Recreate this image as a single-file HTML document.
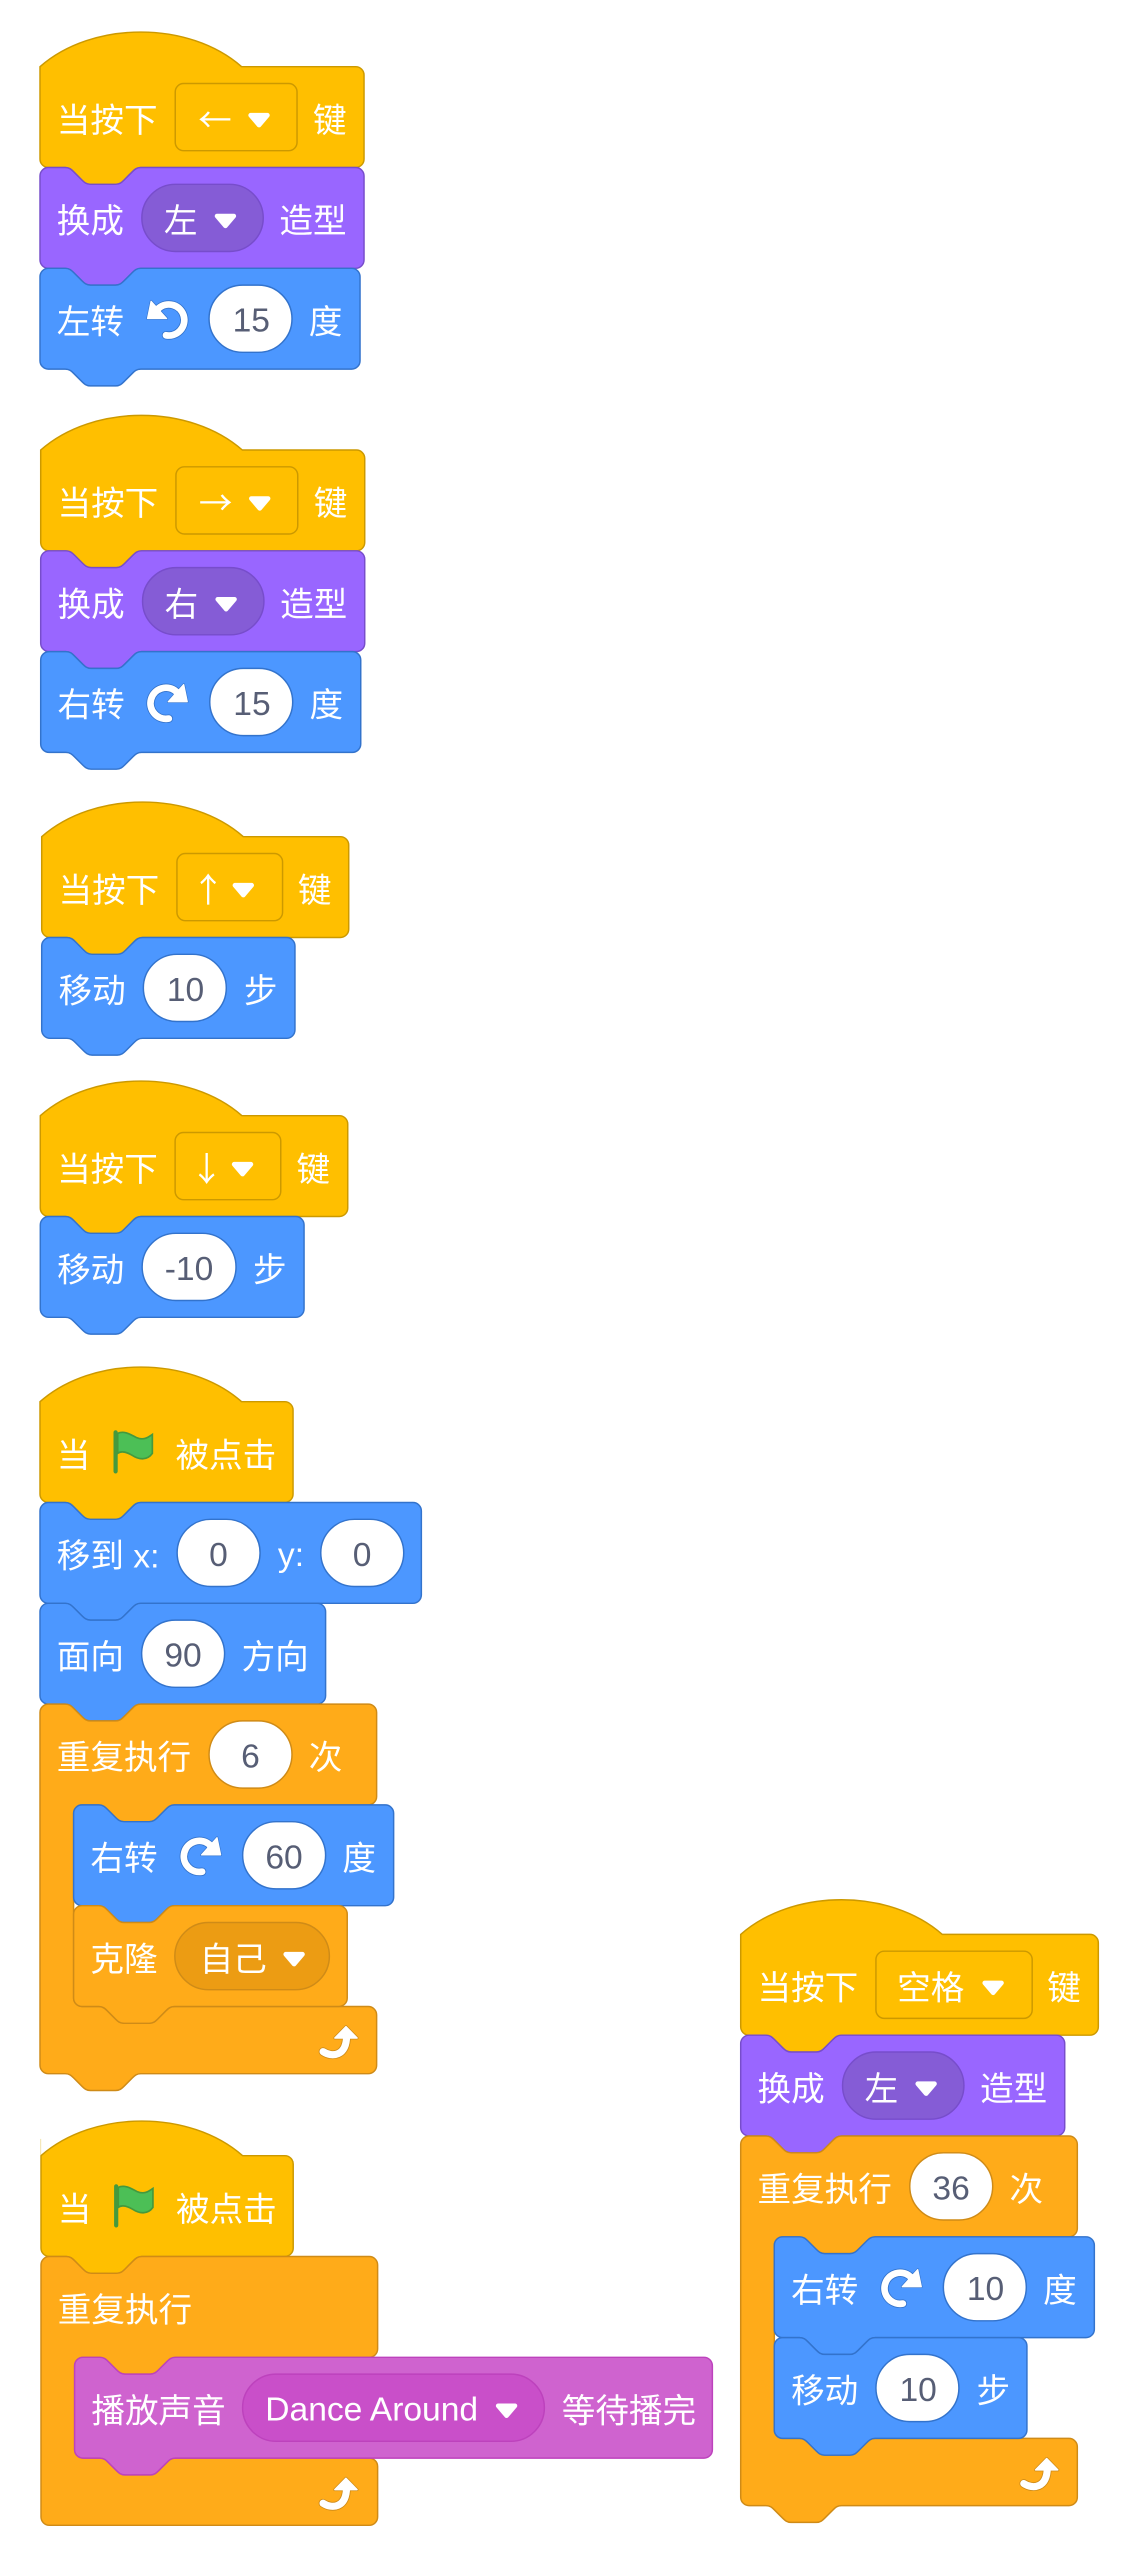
<!DOCTYPE html>
<html><head><meta charset="utf-8"><style>
html,body{margin:0;padding:0;background:#fff}
svg{display:block}
text{font-family:"Liberation Sans","Noto Sans CJK SC",sans-serif;font-size:16px;fill:#fff}
.n{fill:#575E75;text-anchor:middle}
.k{font-family:"Noto Sans CJK SC","Liberation Sans",sans-serif}
</style></head><body>
<svg xmlns="http://www.w3.org/2000/svg" width="1137" height="2556" viewBox="0 0 1137 2556">
<defs>
<g id="a"><path d="M-4,-2.4H4L0,2.3Z" fill="#fff" stroke="#fff" stroke-width="2.2" stroke-linejoin="round"/></g>
<g id="r"><path d="M10.5,17A7.4,7.4 0 1 1 14,4.1L15,6" fill="none" stroke="#3373CC" stroke-width="4" stroke-linecap="round"/><path d="M17.6,.8L19.3,9H10.2Z" fill="#3373CC" stroke="#3373CC" stroke-width="1.2" stroke-linejoin="round"/><path d="M10.5,17A7.4,7.4 0 1 1 14,4.1L15,6" fill="none" stroke="#fff" stroke-width="3.2" stroke-linecap="round"/><path d="M17.6,.8L19.3,9H10.2Z" fill="#fff" stroke="#fff" stroke-width=".6" stroke-linejoin="round"/></g>
<g id="l"><use href="#r" transform="translate(20,0) scale(-1,1)"/></g>
<g id="f"><path d="M2,1.5C5,0 8,2 11,3.5C14,4.8 16,3.8 18.5,2V11C16,14.5 12,14 9,12C6.5,10.5 4,9.5 2,11Z" fill="#4CBF56" stroke="#45993D" stroke-width=".8"/><rect x="0" y="0" width="2" height="20.6" rx="1" fill="#45993D"/></g>
<g id="t"><path d="M1.8,12.7C6,15.5 13,15 13,5" fill="none" stroke="#CF8B17" stroke-width="4.2" stroke-linecap="round"/><path d="M12.7,.8L18,6.2H7.4Z" fill="#CF8B17" stroke="#CF8B17" stroke-width="1.4" stroke-linejoin="round"/><path d="M1.8,12.7C6,15.5 13,15 13,5" fill="none" stroke="#fff" stroke-width="3.4" stroke-linecap="round"/><path d="M12.7,.8L18,6.2H7.4Z" fill="#fff" stroke="#fff" stroke-width=".7" stroke-linejoin="round"/></g>
</defs>

<!-- stack 1 -->
<g transform="translate(40,66.7) scale(2.1)">
<path d="M0,0c25,-22 71,-22 96,0H150.3a4,4 0 0 1 4,4v40a4,4 0 0 1 -4,4H48c-2,0 -3,1 -4,2l-4,4c-1,1 -2,2 -4,2h-12c-2,0 -3,-1 -4,-2l-4,-4c-1,-1 -2,-2 -4,-2H4a4,4 0 0 1 -4,-4z" fill="#FFBF00" stroke="#CC9900" stroke-width=".7"/>
<text x="8" y="31">当按下</text>
<rect x="64.4" y="8" width="58" height="32" rx="4" fill="#FFBF00" stroke="#CC9900" stroke-width=".7"/>
<text class="k" x="75.3" y="31">←</text><use href="#a" x="104.3" y="25.5"/>
<text x="130" y="31">键</text>
<g transform="translate(0,48)">
<path d="M0,4A4,4 0 0 1 4,0H12c2,0 3,1 4,2l4,4c1,1 2,2 4,2h12c2,0 3,-1 4,-2l4,-4c1,-1 2,-2 4,-2H150.3a4,4 0 0 1 4,4v40a4,4 0 0 1 -4,4H48c-2,0 -3,1 -4,2l-4,4c-1,1 -2,2 -4,2h-12c-2,0 -3,-1 -4,-2l-4,-4c-1,-1 -2,-2 -4,-2H4a4,4 0 0 1 -4,-4z" fill="#9966FF" stroke="#774DCB" stroke-width=".7"/>
<text x="8" y="31">换成</text>
<rect x="48.5" y="8" width="57.8" height="32" rx="16" fill="#855CD6" stroke="#774DCB" stroke-width=".7"/>
<text x="59" y="31">左</text><use href="#a" x="88.3" y="25.5"/>
<text x="114" y="31">造型</text>
</g>
<g transform="translate(0,96)">
<path d="M0,4A4,4 0 0 1 4,0H12c2,0 3,1 4,2l4,4c1,1 2,2 4,2h12c2,0 3,-1 4,-2l4,-4c1,-1 2,-2 4,-2H148.4a4,4 0 0 1 4,4v40a4,4 0 0 1 -4,4H48c-2,0 -3,1 -4,2l-4,4c-1,1 -2,2 -4,2h-12c-2,0 -3,-1 -4,-2l-4,-4c-1,-1 -2,-2 -4,-2H4a4,4 0 0 1 -4,-4z" fill="#4C97FF" stroke="#3373CC" stroke-width=".7"/>
<text x="8" y="31">左转</text>
<use href="#l" x="50.5" y="14.9"/>
<rect x="80.5" y="8" width="39.5" height="32" rx="16" fill="#fff" stroke="#3373CC" stroke-width=".7"/>
<text class="n" x="100.6" y="30.2">15</text>
<text x="128" y="31">度</text>
</g>
</g>

<!-- stack 2 -->
<g transform="translate(40.7,450) scale(2.1)">
<path d="M0,0c25,-22 71,-22 96,0H150.3a4,4 0 0 1 4,4v40a4,4 0 0 1 -4,4H48c-2,0 -3,1 -4,2l-4,4c-1,1 -2,2 -4,2h-12c-2,0 -3,-1 -4,-2l-4,-4c-1,-1 -2,-2 -4,-2H4a4,4 0 0 1 -4,-4z" fill="#FFBF00" stroke="#CC9900" stroke-width=".7"/>
<text x="8" y="31">当按下</text>
<rect x="64.4" y="8" width="58" height="32" rx="4" fill="#FFBF00" stroke="#CC9900" stroke-width=".7"/>
<text class="k" x="75.3" y="31">→</text><use href="#a" x="104.3" y="25.5"/>
<text x="130" y="31">键</text>
<g transform="translate(0,48)">
<path d="M0,4A4,4 0 0 1 4,0H12c2,0 3,1 4,2l4,4c1,1 2,2 4,2h12c2,0 3,-1 4,-2l4,-4c1,-1 2,-2 4,-2H150.3a4,4 0 0 1 4,4v40a4,4 0 0 1 -4,4H48c-2,0 -3,1 -4,2l-4,4c-1,1 -2,2 -4,2h-12c-2,0 -3,-1 -4,-2l-4,-4c-1,-1 -2,-2 -4,-2H4a4,4 0 0 1 -4,-4z" fill="#9966FF" stroke="#774DCB" stroke-width=".7"/>
<text x="8" y="31">换成</text>
<rect x="48.5" y="8" width="57.8" height="32" rx="16" fill="#855CD6" stroke="#774DCB" stroke-width=".7"/>
<text x="59" y="31">右</text><use href="#a" x="88.3" y="25.5"/>
<text x="114" y="31">造型</text>
</g>
<g transform="translate(0,96)">
<path d="M0,4A4,4 0 0 1 4,0H12c2,0 3,1 4,2l4,4c1,1 2,2 4,2h12c2,0 3,-1 4,-2l4,-4c1,-1 2,-2 4,-2H148.4a4,4 0 0 1 4,4v40a4,4 0 0 1 -4,4H48c-2,0 -3,1 -4,2l-4,4c-1,1 -2,2 -4,2h-12c-2,0 -3,-1 -4,-2l-4,-4c-1,-1 -2,-2 -4,-2H4a4,4 0 0 1 -4,-4z" fill="#4C97FF" stroke="#3373CC" stroke-width=".7"/>
<text x="8" y="31">右转</text>
<use href="#r" x="50.5" y="14.9"/>
<rect x="80.5" y="8" width="39.5" height="32" rx="16" fill="#fff" stroke="#3373CC" stroke-width=".7"/>
<text class="n" x="100.6" y="30.2">15</text>
<text x="128" y="31">度</text>
</g>
</g>

<!-- stack 3 -->
<g transform="translate(41.7,836.7) scale(2.1)">
<path d="M0,0c25,-22 71,-22 96,0H142.2a4,4 0 0 1 4,4v40a4,4 0 0 1 -4,4H48c-2,0 -3,1 -4,2l-4,4c-1,1 -2,2 -4,2h-12c-2,0 -3,-1 -4,-2l-4,-4c-1,-1 -2,-2 -4,-2H4a4,4 0 0 1 -4,-4z" fill="#FFBF00" stroke="#CC9900" stroke-width=".7"/>
<text x="8" y="31">当按下</text>
<rect x="64.4" y="8" width="50.3" height="32" rx="4" fill="#FFBF00" stroke="#CC9900" stroke-width=".7"/>
<text class="k" x="79.3" y="31" text-anchor="middle">↑</text><use href="#a" x="96" y="25.5"/>
<text x="122" y="31">键</text>
<g transform="translate(0,48)">
<path d="M0,4A4,4 0 0 1 4,0H12c2,0 3,1 4,2l4,4c1,1 2,2 4,2h12c2,0 3,-1 4,-2l4,-4c1,-1 2,-2 4,-2H116.6a4,4 0 0 1 4,4v40a4,4 0 0 1 -4,4H48c-2,0 -3,1 -4,2l-4,4c-1,1 -2,2 -4,2h-12c-2,0 -3,-1 -4,-2l-4,-4c-1,-1 -2,-2 -4,-2H4a4,4 0 0 1 -4,-4z" fill="#4C97FF" stroke="#3373CC" stroke-width=".7"/>
<text x="8" y="31">移动</text>
<rect x="48.4" y="8" width="39.5" height="32" rx="16" fill="#fff" stroke="#3373CC" stroke-width=".7"/>
<text class="n" x="68.5" y="30.2">10</text>
<text x="96.3" y="31">步</text>
</g>
</g>

<!-- stack 4 -->
<g transform="translate(40.3,1115.7) scale(2.1)">
<path d="M0,0c25,-22 71,-22 96,0H142.4a4,4 0 0 1 4,4v40a4,4 0 0 1 -4,4H48c-2,0 -3,1 -4,2l-4,4c-1,1 -2,2 -4,2h-12c-2,0 -3,-1 -4,-2l-4,-4c-1,-1 -2,-2 -4,-2H4a4,4 0 0 1 -4,-4z" fill="#FFBF00" stroke="#CC9900" stroke-width=".7"/>
<text x="8" y="31">当按下</text>
<rect x="64.2" y="8" width="50.3" height="32" rx="4" fill="#FFBF00" stroke="#CC9900" stroke-width=".7"/>
<text class="k" x="79.2" y="31" text-anchor="middle">↓</text><use href="#a" x="96.3" y="25.5"/>
<text x="122" y="31">键</text>
<g transform="translate(0,48)">
<path d="M0,4A4,4 0 0 1 4,0H12c2,0 3,1 4,2l4,4c1,1 2,2 4,2h12c2,0 3,-1 4,-2l4,-4c1,-1 2,-2 4,-2H121.6a4,4 0 0 1 4,4v40a4,4 0 0 1 -4,4H48c-2,0 -3,1 -4,2l-4,4c-1,1 -2,2 -4,2h-12c-2,0 -3,-1 -4,-2l-4,-4c-1,-1 -2,-2 -4,-2H4a4,4 0 0 1 -4,-4z" fill="#4C97FF" stroke="#3373CC" stroke-width=".7"/>
<text x="8" y="31">移动</text>
<rect x="48.5" y="8" width="44.7" height="32" rx="16" fill="#fff" stroke="#3373CC" stroke-width=".7"/>
<text class="n" x="70.8" y="30.2">-10</text>
<text x="101.3" y="31">步</text>
</g>
</g>

<!-- stack 5 -->
<g transform="translate(40,1401.7) scale(2.1)">
<path d="M0,0c25,-22 71,-22 96,0H116.5a4,4 0 0 1 4,4v40a4,4 0 0 1 -4,4H48c-2,0 -3,1 -4,2l-4,4c-1,1 -2,2 -4,2h-12c-2,0 -3,-1 -4,-2l-4,-4c-1,-1 -2,-2 -4,-2H4a4,4 0 0 1 -4,-4z" fill="#FFBF00" stroke="#CC9900" stroke-width=".7"/>
<text x="8" y="31">当</text>
<use href="#f" x="35" y="13.6"/>
<text x="64.5" y="31">被点击</text>
<g transform="translate(0,48)">
<path d="M0,4A4,4 0 0 1 4,0H12c2,0 3,1 4,2l4,4c1,1 2,2 4,2h12c2,0 3,-1 4,-2l4,-4c1,-1 2,-2 4,-2H177.6a4,4 0 0 1 4,4v40a4,4 0 0 1 -4,4H48c-2,0 -3,1 -4,2l-4,4c-1,1 -2,2 -4,2h-12c-2,0 -3,-1 -4,-2l-4,-4c-1,-1 -2,-2 -4,-2H4a4,4 0 0 1 -4,-4z" fill="#4C97FF" stroke="#3373CC" stroke-width=".7"/>
<text x="8" y="31">移到 x:</text>
<rect x="65.3" y="8" width="39.5" height="32" rx="16" fill="#fff" stroke="#3373CC" stroke-width=".7"/>
<text class="n" x="85" y="30.2">0</text>
<text x="113.3" y="30.2">y:</text>
<rect x="133.7" y="8" width="39.5" height="32" rx="16" fill="#fff" stroke="#3373CC" stroke-width=".7"/>
<text class="n" x="153.4" y="30.2">0</text>
</g>
<g transform="translate(0,96)">
<path d="M0,4A4,4 0 0 1 4,0H12c2,0 3,1 4,2l4,4c1,1 2,2 4,2h12c2,0 3,-1 4,-2l4,-4c1,-1 2,-2 4,-2H132a4,4 0 0 1 4,4v40a4,4 0 0 1 -4,4H48c-2,0 -3,1 -4,2l-4,4c-1,1 -2,2 -4,2h-12c-2,0 -3,-1 -4,-2l-4,-4c-1,-1 -2,-2 -4,-2H4a4,4 0 0 1 -4,-4z" fill="#4C97FF" stroke="#3373CC" stroke-width=".7"/>
<text x="8" y="31">面向</text>
<rect x="48.4" y="8" width="39.5" height="32" rx="16" fill="#fff" stroke="#3373CC" stroke-width=".7"/>
<text class="n" x="68.1" y="30.2">90</text>
<text x="96" y="31">方向</text>
</g>
<g transform="translate(0,144)">
<path d="M0,4A4,4 0 0 1 4,0H12c2,0 3,1 4,2l4,4c1,1 2,2 4,2h12c2,0 3,-1 4,-2l4,-4c1,-1 2,-2 4,-2H156.3a4,4 0 0 1 4,4v40a4,4 0 0 1 -4,4H64c-2,0 -3,1 -4,2l-4,4c-1,1 -2,2 -4,2h-12c-2,0 -3,-1 -4,-2l-4,-4c-1,-1 -2,-2 -4,-2h-8a4,4 0 0 0 -4,4v88a4,4 0 0 0 4,4h8c2,0 3,1 4,2l4,4c1,1 2,2 4,2h12c2,0 3,-1 4,-2l4,-4c1,-1 2,-2 4,-2H156.3a4,4 0 0 1 4,4v24a4,4 0 0 1 -4,4H48c-2,0 -3,1 -4,2l-4,4c-1,1 -2,2 -4,2h-12c-2,0 -3,-1 -4,-2l-4,-4c-1,-1 -2,-2 -4,-2H4a4,4 0 0 1 -4,-4z" fill="#FFAB19" stroke="#CF8B17" stroke-width=".7"/>
<text x="8" y="31">重复执行</text>
<rect x="80.5" y="8" width="39.5" height="32" rx="16" fill="#fff" stroke="#CF8B17" stroke-width=".7"/>
<text class="n" x="100.2" y="30.2">6</text>
<text x="128" y="31">次</text>
<use href="#t" x="133" y="152.8"/>
<g transform="translate(16,48)">
<path d="M0,4A4,4 0 0 1 4,0H12c2,0 3,1 4,2l4,4c1,1 2,2 4,2h12c2,0 3,-1 4,-2l4,-4c1,-1 2,-2 4,-2H148.4a4,4 0 0 1 4,4v40a4,4 0 0 1 -4,4H48c-2,0 -3,1 -4,2l-4,4c-1,1 -2,2 -4,2h-12c-2,0 -3,-1 -4,-2l-4,-4c-1,-1 -2,-2 -4,-2H4a4,4 0 0 1 -4,-4z" fill="#4C97FF" stroke="#3373CC" stroke-width=".7"/>
<text x="8" y="31">右转</text>
<use href="#r" x="50.7" y="14.8"/>
<rect x="80.5" y="8" width="39.5" height="32" rx="16" fill="#fff" stroke="#3373CC" stroke-width=".7"/>
<text class="n" x="100.2" y="30.2">60</text>
<text x="128" y="31">度</text>
</g>
<g transform="translate(16,96)">
<path d="M0,4A4,4 0 0 1 4,0H12c2,0 3,1 4,2l4,4c1,1 2,2 4,2h12c2,0 3,-1 4,-2l4,-4c1,-1 2,-2 4,-2H126.3a4,4 0 0 1 4,4v40a4,4 0 0 1 -4,4H48c-2,0 -3,1 -4,2l-4,4c-1,1 -2,2 -4,2h-12c-2,0 -3,-1 -4,-2l-4,-4c-1,-1 -2,-2 -4,-2H4a4,4 0 0 1 -4,-4z" fill="#FFAB19" stroke="#CF8B17" stroke-width=".7"/>
<text x="8" y="31">克隆</text>
<rect x="48.2" y="8" width="73.6" height="32" rx="16" fill="#EC9C13" stroke="#CF8B17" stroke-width=".7"/>
<text x="60" y="31">自己</text><use href="#a" x="105" y="25.5"/>
</g>
</g>
</g>

<!-- stack 6 -->
<g transform="translate(41,2155.7) scale(2.1)">
<path d="M-.1,0V-8" fill="none" stroke="#EBD27A" stroke-width=".3"/>
<path d="M0,0c25,-22 71,-22 96,0H116.1a4,4 0 0 1 4,4v40a4,4 0 0 1 -4,4H48c-2,0 -3,1 -4,2l-4,4c-1,1 -2,2 -4,2h-12c-2,0 -3,-1 -4,-2l-4,-4c-1,-1 -2,-2 -4,-2H4a4,4 0 0 1 -4,-4z" fill="#FFBF00" stroke="#CC9900" stroke-width=".7"/>
<text x="8" y="31">当</text>
<use href="#f" x="34.8" y="13.6"/>
<text x="64.3" y="31">被点击</text>
<g transform="translate(0,48)">
<path d="M0,4A4,4 0 0 1 4,0H12c2,0 3,1 4,2l4,4c1,1 2,2 4,2h12c2,0 3,-1 4,-2l4,-4c1,-1 2,-2 4,-2H156.3a4,4 0 0 1 4,4v40a4,4 0 0 1 -4,4H64c-2,0 -3,1 -4,2l-4,4c-1,1 -2,2 -4,2h-12c-2,0 -3,-1 -4,-2l-4,-4c-1,-1 -2,-2 -4,-2h-8a4,4 0 0 0 -4,4v40a4,4 0 0 0 4,4h8c2,0 3,1 4,2l4,4c1,1 2,2 4,2h12c2,0 3,-1 4,-2l4,-4c1,-1 2,-2 4,-2H156.3a4,4 0 0 1 4,4v24a4,4 0 0 1 -4,4H4a4,4 0 0 1 -4,-4z" fill="#FFAB19" stroke="#CF8B17" stroke-width=".7"/>
<text x="8" y="31">重复执行</text>
<use href="#t" x="132.5" y="104.8"/>
<g transform="translate(16,48)">
<path d="M0,4A4,4 0 0 1 4,0H12c2,0 3,1 4,2l4,4c1,1 2,2 4,2h12c2,0 3,-1 4,-2l4,-4c1,-1 2,-2 4,-2H299.7a4,4 0 0 1 4,4v40a4,4 0 0 1 -4,4H48c-2,0 -3,1 -4,2l-4,4c-1,1 -2,2 -4,2h-12c-2,0 -3,-1 -4,-2l-4,-4c-1,-1 -2,-2 -4,-2H4a4,4 0 0 1 -4,-4z" fill="#CF63CF" stroke="#BD42BD" stroke-width=".7"/>
<text x="8" y="31">播放声音</text>
<rect x="80" y="8" width="143.7" height="32" rx="16" fill="#C94FC9" stroke="#BD42BD" stroke-width=".7"/>
<text x="90.8" y="30.2">Dance Around</text><use href="#a" x="205.7" y="25.5"/>
<text x="232" y="31">等待播完</text>
</g>
</g>
</g>

<!-- stack 7 -->
<g transform="translate(740.7,1934.4) scale(2.1)">
<path d="M0,0c25,-22 71,-22 96,0H166.3a4,4 0 0 1 4,4v40a4,4 0 0 1 -4,4H48c-2,0 -3,1 -4,2l-4,4c-1,1 -2,2 -4,2h-12c-2,0 -3,-1 -4,-2l-4,-4c-1,-1 -2,-2 -4,-2H4a4,4 0 0 1 -4,-4z" fill="#FFBF00" stroke="#CC9900" stroke-width=".7"/>
<text x="8" y="31">当按下</text>
<rect x="64.4" y="8" width="74.4" height="32" rx="4" fill="#FFBF00" stroke="#CC9900" stroke-width=".7"/>
<text x="74.5" y="31">空格</text><use href="#a" x="120.2" y="25.5"/>
<text x="146" y="31">键</text>
<g transform="translate(0,48)">
<path d="M0,4A4,4 0 0 1 4,0H12c2,0 3,1 4,2l4,4c1,1 2,2 4,2h12c2,0 3,-1 4,-2l4,-4c1,-1 2,-2 4,-2H150.3a4,4 0 0 1 4,4v40a4,4 0 0 1 -4,4H48c-2,0 -3,1 -4,2l-4,4c-1,1 -2,2 -4,2h-12c-2,0 -3,-1 -4,-2l-4,-4c-1,-1 -2,-2 -4,-2H4a4,4 0 0 1 -4,-4z" fill="#9966FF" stroke="#774DCB" stroke-width=".7"/>
<text x="8" y="31">换成</text>
<rect x="48.5" y="8" width="57.8" height="32" rx="16" fill="#855CD6" stroke="#774DCB" stroke-width=".7"/>
<text x="59" y="31">左</text><use href="#a" x="88.3" y="25.5"/>
<text x="114" y="31">造型</text>
</g>
<g transform="translate(0,96)">
<path d="M0,4A4,4 0 0 1 4,0H12c2,0 3,1 4,2l4,4c1,1 2,2 4,2h12c2,0 3,-1 4,-2l4,-4c1,-1 2,-2 4,-2H156.3a4,4 0 0 1 4,4v40a4,4 0 0 1 -4,4H64c-2,0 -3,1 -4,2l-4,4c-1,1 -2,2 -4,2h-12c-2,0 -3,-1 -4,-2l-4,-4c-1,-1 -2,-2 -4,-2h-8a4,4 0 0 0 -4,4v88a4,4 0 0 0 4,4h8c2,0 3,1 4,2l4,4c1,1 2,2 4,2h12c2,0 3,-1 4,-2l4,-4c1,-1 2,-2 4,-2H156.3a4,4 0 0 1 4,4v24a4,4 0 0 1 -4,4H48c-2,0 -3,1 -4,2l-4,4c-1,1 -2,2 -4,2h-12c-2,0 -3,-1 -4,-2l-4,-4c-1,-1 -2,-2 -4,-2H4a4,4 0 0 1 -4,-4z" fill="#FFAB19" stroke="#CF8B17" stroke-width=".7"/>
<text x="8" y="31">重复执行</text>
<rect x="80.5" y="8" width="39.5" height="32" rx="16" fill="#fff" stroke="#CF8B17" stroke-width=".7"/>
<text class="n" x="100.2" y="30.2">36</text>
<text x="128" y="31">次</text>
<use href="#t" x="133" y="152.8"/>
<g transform="translate(16,48)">
<path d="M0,4A4,4 0 0 1 4,0H12c2,0 3,1 4,2l4,4c1,1 2,2 4,2h12c2,0 3,-1 4,-2l4,-4c1,-1 2,-2 4,-2H148.4a4,4 0 0 1 4,4v40a4,4 0 0 1 -4,4H48c-2,0 -3,1 -4,2l-4,4c-1,1 -2,2 -4,2h-12c-2,0 -3,-1 -4,-2l-4,-4c-1,-1 -2,-2 -4,-2H4a4,4 0 0 1 -4,-4z" fill="#4C97FF" stroke="#3373CC" stroke-width=".7"/>
<text x="8" y="31">右转</text>
<use href="#r" x="50.7" y="14.8"/>
<rect x="80.5" y="8" width="39.5" height="32" rx="16" fill="#fff" stroke="#3373CC" stroke-width=".7"/>
<text class="n" x="100.6" y="30.2">10</text>
<text x="128" y="31">度</text>
</g>
<g transform="translate(16,96)">
<path d="M0,4A4,4 0 0 1 4,0H12c2,0 3,1 4,2l4,4c1,1 2,2 4,2h12c2,0 3,-1 4,-2l4,-4c1,-1 2,-2 4,-2H116.3a4,4 0 0 1 4,4v40a4,4 0 0 1 -4,4H48c-2,0 -3,1 -4,2l-4,4c-1,1 -2,2 -4,2h-12c-2,0 -3,-1 -4,-2l-4,-4c-1,-1 -2,-2 -4,-2H4a4,4 0 0 1 -4,-4z" fill="#4C97FF" stroke="#3373CC" stroke-width=".7"/>
<text x="8" y="31">移动</text>
<rect x="48.4" y="8" width="39.5" height="32" rx="16" fill="#fff" stroke="#3373CC" stroke-width=".7"/>
<text class="n" x="68.5" y="30.2">10</text>
<text x="96.3" y="31">步</text>
</g>
</g>
</g>
</svg>
</body></html>
